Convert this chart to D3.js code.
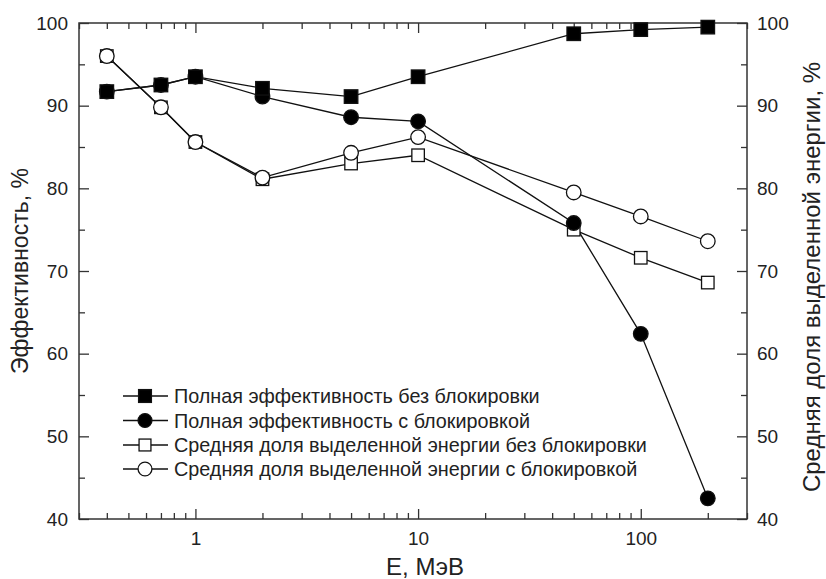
<!DOCTYPE html>
<html><head><meta charset="utf-8">
<script src="https://cdn.jsdelivr.net/npm/d3@7/dist/d3.min.js"></script>
<style>body{margin:0;background:#fff;} svg{display:block;font-family:"Liberation Sans",Arial,sans-serif;}</style>
</head><body>
<svg id="c" width="826" height="579"></svg>
<script>
const energies = [0.4, 0.7, 1, 2, 5, 10, 50, 100, 200];
const fullNoBlock = [91.7, 92.5, 93.5, 92.1, 91.1, 93.5, 98.7, 99.2, 99.5];
const fullBlock = [91.7, 92.5, 93.5, 91.1, 88.6, 88.1, 75.8, 62.4, 42.5];
const energyNoBlock = [96.0, 89.8, 85.6, 81.1, 83.0, 84.0, 75.0, 71.6, 68.6];
const energyBlock = [96.0, 89.8, 85.6, 81.3, 84.3, 86.2, 79.5, 76.6, 73.6];
const seriesNames = [
  "Полная эффективность без блокировки",
  "Полная эффективность с блокировкой",
  "Средняя доля выделенной энергии без блокировки",
  "Средняя доля выделенной энергии с блокировкой"
];
const xTickLabels = [1, 10, 100];
const yTickLabels = [40, 50, 60, 70, 80, 90, 100];
const xTitle = "E, МэВ";
const yLeftTitle = "Эффективность, %";
const yRightTitle = "Средняя доля выделенной энергии, %";

const series = [
  {name: seriesNames[2], values: energyNoBlock, shape: "square", fill: "#fff"},
  {name: seriesNames[3], values: energyBlock, shape: "circle", fill: "#fff"},
  {name: seriesNames[1], values: fullBlock, shape: "circle", fill: "#000"},
  {name: seriesNames[0], values: fullNoBlock, shape: "square", fill: "#000"}
];
const legendOrder = [3, 2, 0, 1];

const svg = d3.select("#c");
const L = 79, R = 747, T = 23, B = 519;
const x = d3.scaleLog().domain([0.3, 300]).range([L, R]);
const y = d3.scaleLinear().domain([40, 100]).range([B, T]);
const txt = "#222";

// minor ticks
const minorX = [];
[0.1, 1, 10, 100].forEach(d => { for (let k = 2; k <= 9; k++) { const v = d * k; if (v >= 0.3 && v <= 300) minorX.push(v); } });
const minorY = [45, 55, 65, 75, 85, 95];

const g = svg.append("g");
g.append("g").attr("transform", `translate(0,${B})`)
  .call(d3.axisBottom(x).tickValues(xTickLabels).tickSizeInner(-10).tickSizeOuter(0).tickPadding(13).tickFormat(d3.format("d")));
g.append("g").attr("transform", `translate(0,${B})`)
  .call(d3.axisBottom(x).tickValues(minorX).tickSizeInner(-6).tickSizeOuter(0).tickFormat(""));
g.append("g").attr("transform", `translate(0,${T})`)
  .call(d3.axisTop(x).tickValues(xTickLabels).tickSizeInner(-10).tickSizeOuter(0).tickFormat(""));
g.append("g").attr("transform", `translate(0,${T})`)
  .call(d3.axisTop(x).tickValues(minorX).tickSizeInner(-6).tickSizeOuter(0).tickFormat(""));
g.append("g").attr("transform", `translate(${L},0)`)
  .call(d3.axisLeft(y).tickValues(yTickLabels).tickSizeInner(-10).tickSizeOuter(0).tickPadding(11));
g.append("g").attr("transform", `translate(${L},0)`)
  .call(d3.axisLeft(y).tickValues(minorY).tickSizeInner(-6).tickSizeOuter(0).tickFormat(""));
g.append("g").attr("transform", `translate(${R},0)`)
  .call(d3.axisRight(y).tickValues(yTickLabels).tickSizeInner(-10).tickSizeOuter(0).tickPadding(10));
g.append("g").attr("transform", `translate(${R},0)`)
  .call(d3.axisRight(y).tickValues(minorY).tickSizeInner(-6).tickSizeOuter(0).tickFormat(""));

g.selectAll(".domain").remove();
g.selectAll(".tick line").attr("stroke", "#333").attr("stroke-width", 1.3);
g.selectAll(".tick text").attr("fill", txt).style("font-size", "19px").style("font-family", "Liberation Sans, Arial, sans-serif");
svg.append("rect").attr("x", L).attr("y", T).attr("width", R - L).attr("height", B - T)
  .attr("fill", "none").attr("stroke", "#333").attr("stroke-width", 1.5);

// lines and markers
const line = d3.line().x((d, i) => x(energies[i])).y(d => y(d));
series.forEach(s => {
  svg.append("path").datum(s.values).attr("d", line).attr("fill", "none").attr("stroke", "#111").attr("stroke-width", 1.3);
});
function drawMarker(sel, shape, fill, cx, cy, scale) {
  scale = scale || 1;
  if (shape === "square") {
    const sz = (fill === "#000" ? 13.5 : 12.5) * scale;
    sel.append("rect").attr("x", cx - sz / 2).attr("y", cy - sz / 2).attr("width", sz).attr("height", sz)
      .attr("fill", fill).attr("stroke", "#111").attr("stroke-width", 1.3);
  } else {
    sel.append("circle").attr("cx", cx).attr("cy", cy).attr("r", 7.3 * scale)
      .attr("fill", fill).attr("stroke", "#111").attr("stroke-width", 1.3);
  }
}
series.forEach(s => {
  const mg = svg.append("g");
  s.values.forEach((v, i) => drawMarker(mg, s.shape, s.fill, x(energies[i]), y(v)));
});

// legend
const legX1 = 123, legX2 = 168, legMid = 145, legTextX = 174;
const legY = [396, 420.5, 445, 469];
legendOrder.forEach((si, k) => {
  const s = series[si];
  const lg = svg.append("g");
  lg.append("line").attr("x1", legX1).attr("x2", legX2).attr("y1", legY[k]).attr("y2", legY[k]).attr("stroke", "#111").attr("stroke-width", 1.3);
  drawMarker(lg, s.shape, s.fill, legMid, legY[k], 0.95);
  lg.append("text").attr("x", legTextX).attr("y", legY[k]).attr("dy", "0.36em").attr("fill", txt)
    .style("font-size", "19.8px").text(s.name);
});

// titles
svg.append("text").attr("x", 425).attr("y", 575).attr("text-anchor", "middle").attr("fill", txt).style("font-size", "24px").text(xTitle);
svg.append("text").attr("transform", `translate(28,271) rotate(-90)`).attr("text-anchor", "middle").attr("fill", txt).style("font-size", "23px").text(yLeftTitle);
svg.append("text").attr("transform", `translate(820,277) rotate(-90)`).attr("text-anchor", "middle").attr("fill", txt).style("font-size", "24px").text(yRightTitle);
</script>
</body></html>
